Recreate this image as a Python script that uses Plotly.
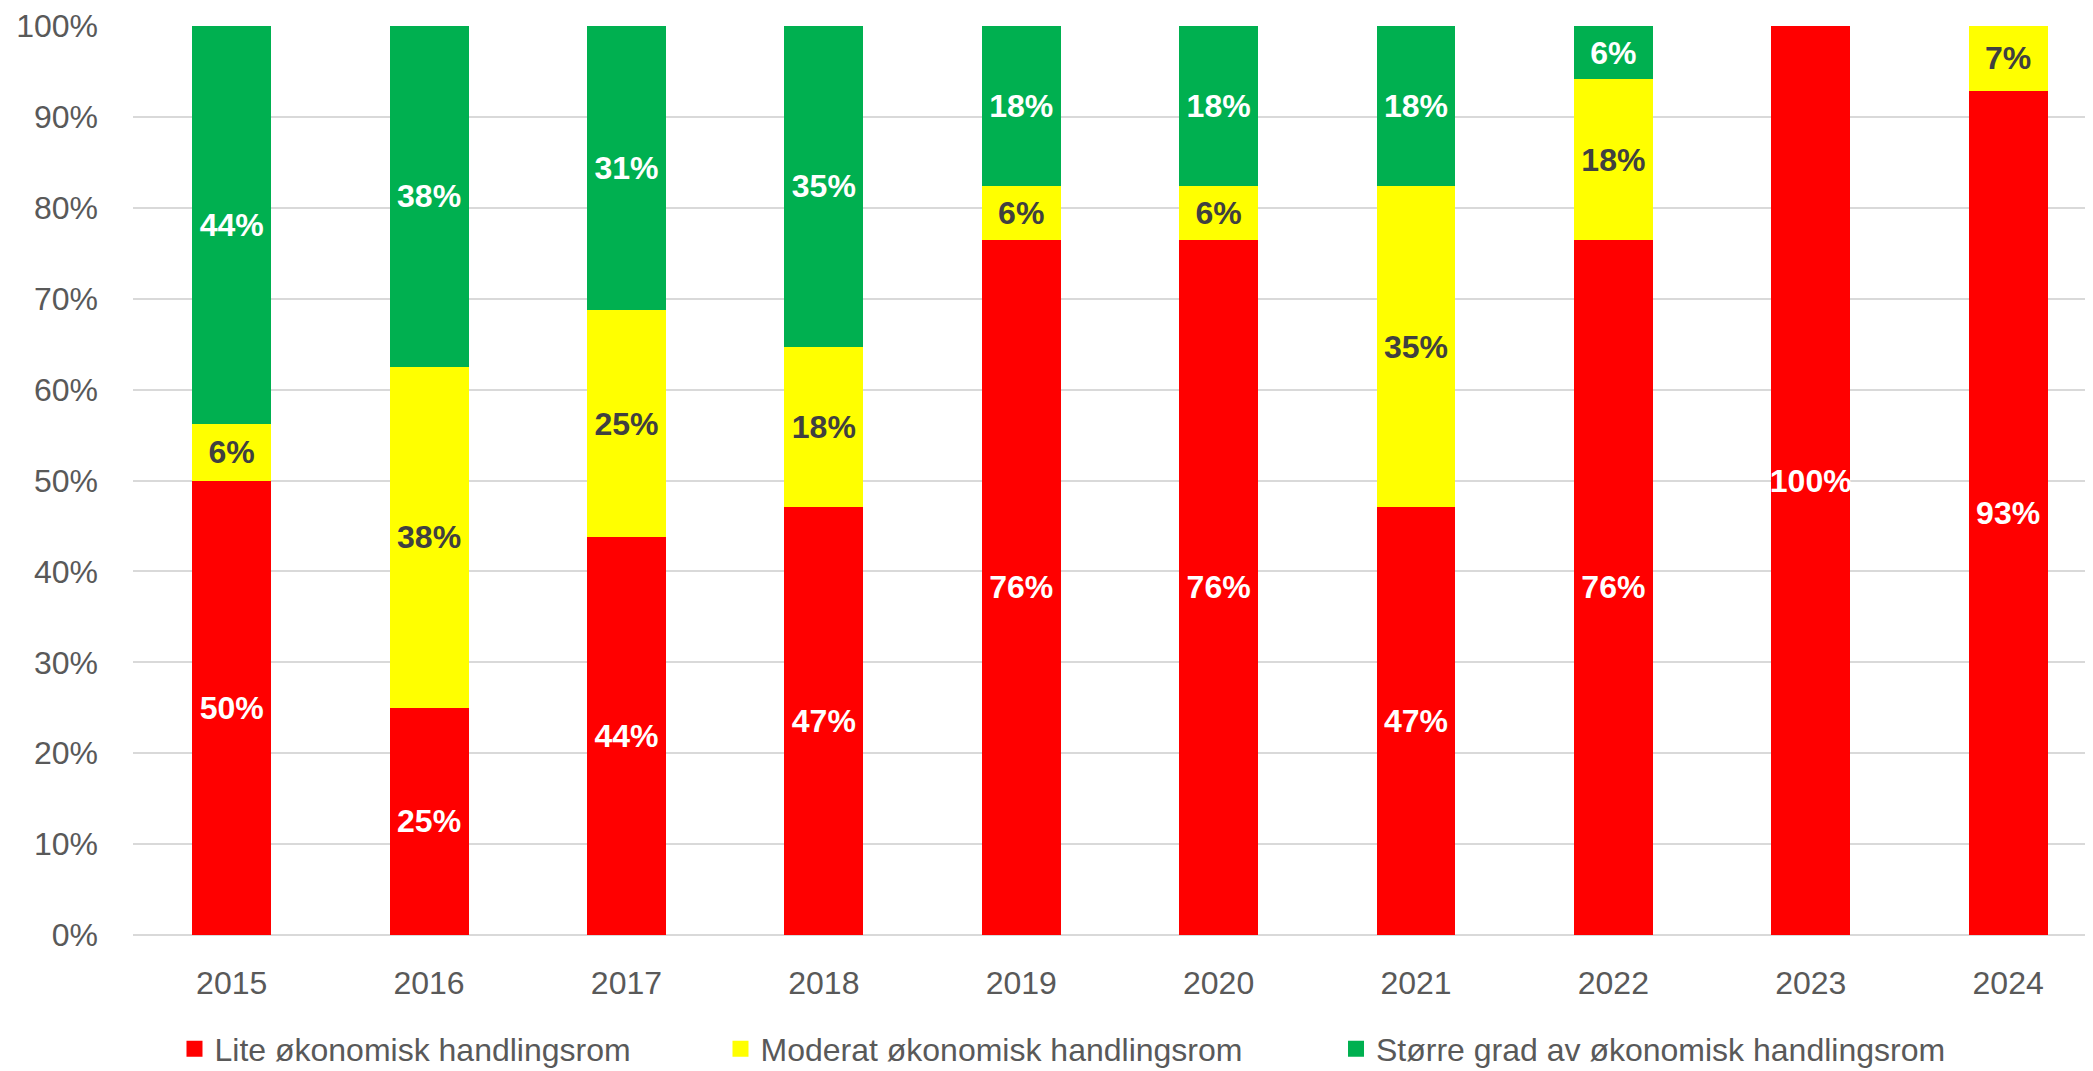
import plotly.graph_objects as go

years = ["2015", "2016", "2017", "2018", "2019", "2020", "2021", "2022", "2023", "2024"]
lite = [50.0, 25.0, 43.75, 47.06, 76.47, 76.47, 47.06, 76.47, 100.0, 92.86]
moderat = [6.25, 37.5, 25.0, 17.65, 5.88, 5.88, 35.29, 17.65, 0.0, 7.14]
storre = [43.75, 37.5, 31.25, 35.29, 17.65, 17.65, 17.65, 5.88, 0.0, 0.0]

names = ["Lite økonomisk handlingsrom", "Moderat økonomisk handlingsrom",
         "Større grad av økonomisk handlingsrom"]
colors = ["#FF0000", "#FFFF00", "#00B050"]
label_colors = ["#FFFFFF", "#404040", "#FFFFFF"]
series = [lite, moderat, storre]

FONT = "Liberation Sans, Arial, sans-serif"


def labels(vals):
    return [f"{int(v + 0.5)}%" if v > 0 else "" for v in vals]


fig = go.Figure()
legend_ids = ["legend", "legend2", "legend3"]
for vals, name, col, lcol, lg in zip(series, names, colors, label_colors, legend_ids):
    fig.add_trace(go.Bar(
        x=years, y=vals, name=name, marker=dict(color=col, line=dict(width=0)),
        text=labels(vals), textposition="inside", insidetextanchor="middle",
        constraintext="none", textangle=0,
        textfont=dict(family=FONT, size=32, color=lcol, weight="bold"),
        hoverinfo="skip", showlegend=False,
    ))
    fig.add_trace(go.Scatter(
        x=[None], y=[None], mode="markers", name=name, legend=lg,
        marker=dict(symbol="square", size=16, color=col), showlegend=True,
    ))

leg_common = dict(orientation="h", yanchor="middle", y=-0.1254, xanchor="left",
                  font=dict(family=FONT, size=32, color="#595959"),
                  bgcolor="rgba(0,0,0,0)", borderwidth=0, itemsizing="trace")

fig.update_layout(
    width=2085, height=1063,
    margin=dict(l=125, r=0, t=18, b=136, pad=0, autoexpand=False),
    barmode="stack", bargap=0.6,
    plot_bgcolor="white", paper_bgcolor="white",
    font=dict(family=FONT, color="#595959"),
    legend=dict(x=0.02117, **leg_common),
    legend2=dict(x=0.29974, **leg_common),
    legend3=dict(x=0.61378, **leg_common),
    xaxis=dict(
        type="category", range=[-0.5, 9.43], showgrid=False, ticks="",
        showline=False, zeroline=False,
        tickfont=dict(family=FONT, size=32, color="#595959"),
        ticklabelstandoff=26,
    ),
    yaxis=dict(
        range=[0, 100], dtick=10, ticksuffix="%", showgrid=True,
        gridcolor="#D9D9D9", gridwidth=2, zeroline=True, zerolinecolor="#D9D9D9",
        zerolinewidth=2, showline=False, ticks="",
        tickfont=dict(family=FONT, size=32, color="#595959"),
        ticklabelstandoff=34,
    ),
)

fig.write_html("out.html")
